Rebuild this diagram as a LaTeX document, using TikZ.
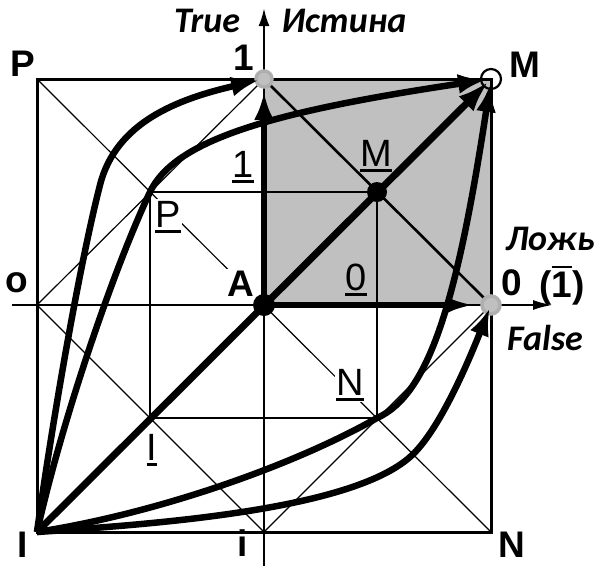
\documentclass[tikz,border=0pt]{standalone}
\usepackage{fontspec}
\setmainfont{Liberation Sans}
\newfontfamily\labfont{Carlito}
\usetikzlibrary{arrows.meta}
\definecolor{quadgray}{RGB}{192,192,192}
\definecolor{ringgray}{RGB}{175,175,175}
\newcommand\myul[1]{\vtop{\hbox{#1}\kern3pt\hrule height 2.5pt}}
\newcommand\myol[1]{\vbox{\hrule height 2.5pt\kern3.5pt\hbox{#1}}}
\tikzset{
  thinline/.style={line width=1.2pt},
  gridline/.style={line width=2.3pt},
  frameline/.style={line width=3pt},
  axisline/.style={line width=2.5pt},
  bigarrow/.style={line width=6.5pt, -{Latex[length=28pt,width=20pt]}},
  lab/.style={font=\fontsize{37}{44}\selectfont\bfseries, inner sep=0pt, anchor=base},
  ulab/.style={font=\fontsize{38}{44}\selectfont, inner sep=1.5pt, anchor=base},
  itlab/.style={font=\labfont\bfseries\itshape\fontsize{36}{42}\selectfont, inner sep=0pt, anchor=base},
  ring/.style={draw=ringgray, fill=quadgray, line width=3.5pt},
}
\begin{document}
\begin{tikzpicture}[x=1pt,y=-1pt]
\useasboundingbox (0,0) rectangle (597,566);
% key points
\coordinate (A) at (264,305);
\coordinate (P) at (37,79);
\coordinate (M) at (491,79);
\coordinate (N) at (491,532);
\coordinate (I) at (37,532);
\coordinate (one) at (264,79);
\coordinate (zero) at (491,305);
\coordinate (o) at (37,305);
\coordinate (i) at (264,532);
\coordinate (Pb) at (150,192);
\coordinate (Mb) at (377,192);
\coordinate (Nb) at (377,418);
\coordinate (Ib) at (150,418);
\coordinate (K1) at (100,185);
\coordinate (K4) at (410,457);
\coordinate (ytop) at (264,8);
\coordinate (ybot) at (264,566);
\coordinate (xleft) at (12,305);
\coordinate (xright) at (553,305);
% gray quadrant
\fill[quadgray] (A) rectangle (M);
% frames
\draw[frameline] (P) rectangle (N);
\draw[gridline] (Pb) rectangle (Nb);
% thin diagonals
\draw[thinline] (P) -- (N);
\draw[thinline] (o) -- (one);
\draw[thinline] (o) -- (i) -- (zero);
\draw[line width=2.6pt] (one) -- (zero);
% axes
\draw[axisline, -{Latex[length=18pt,width=11pt]}] (ybot) -- (ytop);
\draw[axisline, -{Latex[length=20pt,width=10pt]}] (xleft) -- (xright);
% labels with white background
\node[lab, fill=white, inner sep=2pt] (lA) at (241,296) {A};
\node[ulab, fill=white] (lPb) at (168,227) {\myul{P}};
\node[ulab, fill=white] (lNb) at (350,395) {\myul{N}};
% rings under arrows
\draw[ring] (one) circle[radius=8pt];
\draw[ring] (zero) circle[radius=9pt];
% thick arrows
\draw[bigarrow, shorten >=13pt] (A) -- (one);
\draw[bigarrow, -{Latex[length=28pt,width=16pt]}, shorten >=16pt] (A) -- (zero);
\draw[bigarrow, line width=7pt, -{Latex[length=32pt,width=21pt]}, shorten >=3pt] (I) -- (M);
\draw[bigarrow, shorten >=5pt] (I) .. controls (53,417) and (80,263) .. (K1)
   .. controls (116,122) and (178,99) .. (one);
\draw[bigarrow, shorten >=5pt] (I) .. controls (62,420) and (114,268) .. (Pb)
   .. controls (175,140) and (270,112) .. (M);
\draw[bigarrow, shorten >=5pt] (I) .. controls (165,512) and (300,462) .. (Nb)
   .. controls (429.5,394.5) and (457.5,299.5) .. (M);
\draw[bigarrow, shorten >=3pt] (I) .. controls (157,524) and (350,510) .. (K4)
   .. controls (440,431) and (471,355) .. (zero);
% dots and ring
\fill (A) circle[radius=11pt];
\fill (Mb) circle[radius=10pt];
\draw[line width=2.2pt] (M) circle[radius=10pt];
% labels
\node[lab] (lP) at (23,76) {P};
\node[lab] (l1) at (244,70) {1};
\node[lab] (lM) at (525,77) {M};
\node[lab] (lo) at (17,292) {o};
\node[lab] (l0) at (512,295) {0};
\node[lab] (lbar) at (562,297) {(\myol{1})};
\node[lab] (lI) at (23,557) {I};
\node[lab] (li) at (243,556) {i};
\node[lab] (lN) at (512,557) {N};
\node[itlab] (ltrue) at (207,32) {True};
\node[itlab] (list) at (344,32) {Истина};
\node[itlab] (llozh) at (550,250) {Ложь};
\node[itlab] (lfalse) at (545,350) {False};
\node[ulab] (l1b) at (243,177) {\myul{1}};
\node[ulab] (lMb) at (376,166) {\myul{M}};
\node[ulab] (l0b) at (356,290) {\myul{0}};
\node[ulab] (lIb) at (152,460) {\myul{I}};
\end{tikzpicture}
\end{document}
